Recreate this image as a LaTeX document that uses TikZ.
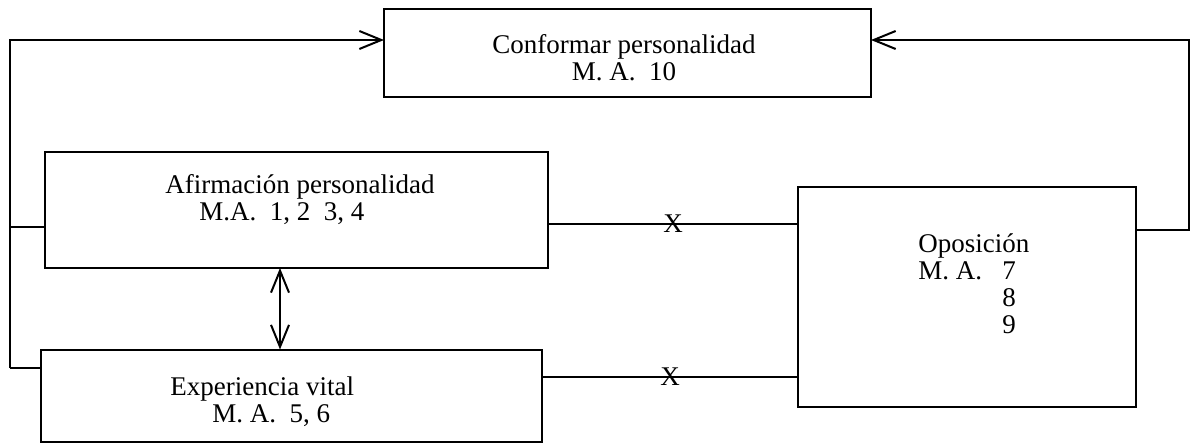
\documentclass[tikz,border=0pt]{standalone}
\usepackage{fontspec}
\setmainfont{Liberation Serif}
\usetikzlibrary{arrows.meta}

\tikzset{
  box/.style={draw, line width=1pt, inner sep=0pt, outer sep=0pt},
  link/.style={draw, line width=1pt},
  barb/.tip={Straight Barb[length=11pt,width=9pt,line width=1pt]},
  label/.style={inner sep=0pt, font=\fontsize{13.5}{13.5}\selectfont},
}

\begin{document}
\begin{tikzpicture}[x=0.5pt,y=0.5pt,yscale=-1,xscale=1]
\path[use as bounding box] (0,0) rectangle (1192,443);

%Shape: Rectangle [conf]
\node[box, minimum width=243.5pt, minimum height=44pt] (conf) at (627.5,53) {};
%Shape: Rectangle [afir]
\node[box, minimum width=251.5pt, minimum height=58pt] (afir) at (296.5,210) {};
%Shape: Rectangle [expe]
\node[box, minimum width=250.5pt, minimum height=46pt] (expe) at (291.5,395.5) {};
%Shape: Rectangle [opos]
\node[box, minimum width=169pt, minimum height=110pt] (opos) at (967,297) {};

%Bend points
\coordinate (ltop) at (10,40);
\coordinate (lmid) at (10,227);
\coordinate (lbot) at (10,368);
\coordinate (rtop) at (1189,40);
\coordinate (rbot) at (1189,230);

%Straight Lines
\draw[link, -barb] (lbot) -- (ltop) -- (conf.west |- ltop);
\draw[link] (lbot) -- (expe.west |- lbot);
\draw[link] (lmid) -- (afir.west |- lmid);
%Straight Lines
\draw[link, -barb] (opos.east |- rbot) -- (rbot) -- (rtop) -- (conf.east |- rtop);
%Straight Lines
\draw[link, barb-barb] (afir.south -| 280,0) -- (expe.north -| 280,0);
%Straight Lines
\draw[link] (afir.east |- 0,224) -- node[label] (xtop) {X} (opos.west |- 0,224);
\draw[link] (expe.east |- 0,377) -- node[label] (xbot) {X} (opos.west |- 0,377);

% Text Node
\node[label, align=center] (tconf) at (624,58) {Conformar personalidad\\M. A.\ \ 10};
% Text Node
\node[label, align=left, anchor=west] (tafir) at (165,200) {Afirmación personalidad\\\hspace*{17pt}M.A.\ \ 1, 2\ \ 3, 4};
% Text Node
\node[label, align=left, anchor=west] (texpe) at (170,402) {Experiencia vital\\\hspace*{21pt}M. A.\ \ 5, 6};
% Text Node
\node[label, align=left, anchor=west] (topos) at (918,284) {Oposición\\M. A.\ \ \ 7\\\hphantom{M. A.\ \ \ }8\\\hphantom{M. A.\ \ \ }9};

\end{tikzpicture}
\end{document}
